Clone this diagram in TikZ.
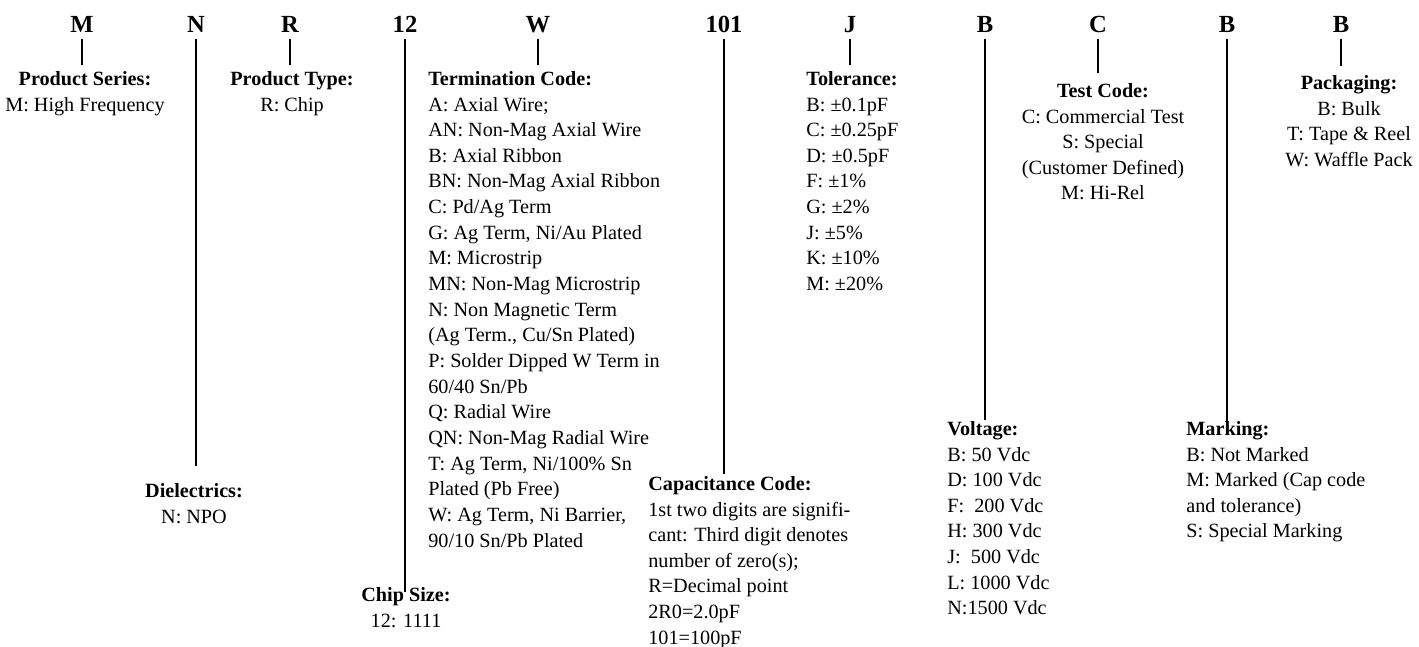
\documentclass[tikz,border=0pt]{standalone}
\usepackage{fontspec}
\setmainfont{Liberation Serif}

\begin{document}
\begin{tikzpicture}[
    x=0.02cm, y=-0.02cm,
    code/.style={font=\fontsize{14}{16}\selectfont\bfseries, inner sep=0pt, text depth=0pt, anchor=base},
    info/.style={font=\fontsize{11.5}{14.6}\selectfont, inner sep=0pt, align=left, anchor=north west},
    infoc/.style={info, align=center, anchor=north},
    lead/.style={line width=1pt, shorten <=3.5pt, shorten >=3.5pt}
]
\useasboundingbox (0,0) rectangle (1419,646);

% --- PART NUMBER CODES ---
\node[code] (cM) at (82, 32) {M};
\node[code] (cN) at (196, 32) {N};
\node[code] (cR) at (290, 32) {R};
\node[code] (c12) at (405, 32) {12};
\node[code] (cW) at (538, 32) {W};
\node[code] (c101) at (724, 32) {101};
\node[code] (cJ) at (850, 32) {J};
\node[code] (cB1) at (985, 32) {B};
\node[code] (cC) at (1098, 32) {C};
\node[code] (cB2) at (1227, 32) {B};
\node[code] (cB3) at (1341, 32) {B};

% --- UPPER ROW ---
\node[infoc] (series) at (85, 71)
{\textbf{Product Series:}\\
M: High Frequency};

\node[infoc] (ptype) at (292, 71)
{\textbf{Product Type:}\\
R: Chip};

\node[info] (term) at (428, 71)
{\textbf{Termination Code:}\\
A: Axial Wire;\\
AN: Non-Mag Axial Wire\\
B: Axial Ribbon\\
BN: Non-Mag Axial Ribbon\\
C: Pd/Ag Term\\
G: Ag Term, Ni/Au Plated\\
M: Microstrip\\
MN: Non-Mag Microstrip\\
N: Non Magnetic Term\\
(Ag Term., Cu/Sn Plated)\\
P: Solder Dipped W Term in\\
60/40 Sn/Pb\\
Q: Radial Wire\\
QN: Non-Mag Radial Wire\\
T: Ag Term, Ni/100\% Sn\\
Plated (Pb Free)\\
W: Ag Term, Ni Barrier,\\
90/10 Sn/Pb Plated};

\node[info] (tol) at (806, 71)
{\textbf{Tolerance:}\\
B: ±0.1pF\\
C: ±0.25pF\\
D: ±0.5pF\\
F: ±1\%\\
G: ±2\%\\
J: ±5\%\\
K: ±10\%\\
M: ±20\%};

\node[infoc] (test) at (1103, 83)
{\textbf{Test Code:}\\
C: Commercial Test\\
S: Special\\
(Customer Defined)\\
M: Hi-Rel};

\node[infoc] (pack) at (1349, 75)
{\textbf{Packaging:}\\
B: Bulk\\
T: Tape \& Reel\\
W: Waffle Pack};

% --- LOWER ROW ---
\node[infoc] (dielec) at (194, 483)
{\textbf{Dielectrics:}\\
N: NPO};

\node[infoc] (chip) at (406, 587)
{\textbf{Chip Size:}\\
12: 1111};

\node[info] (cap) at (648, 476)
{\textbf{Capacitance Code:}\\
1st two digits are signifi-\\
cant: Third digit denotes\\
number of zero(s);\\
R=Decimal point\\
2R0=2.0pF\\
101=100pF};

\node[info] (volt) at (947, 421)
{\textbf{Voltage:}\\
B: 50 Vdc\\
D: 100 Vdc\\
F:~ 200 Vdc\\
H: 300 Vdc\\
J:~ 500 Vdc\\
L: 1000 Vdc\\
N:1500 Vdc};

\node[info] (mark) at (1186, 421)
{\textbf{Marking:}\\
B: Not Marked\\
M: Marked (Cap code\\
and tolerance)\\
S: Special Marking};

% --- LEADERS ---
\draw[lead] (cM) -- (cM |- series.north);
\draw[lead, shorten >=9.5pt] (cN) -- (cN |- dielec.north);
\draw[lead] (cR) -- (cR |- ptype.north);
\draw[lead, shorten >=-3pt] (c12) -- (c12 |- chip.north);
\draw[lead] (cW) -- (cW |- term.north);
\draw[lead, shorten >=1pt] (c101) -- (c101 |- cap.north);
\draw[lead] (cJ) -- (cJ |- tol.north);
\draw[lead, shorten >=0.5pt] (cB1) -- (cB1 |- volt.north);
\draw[lead, shorten >=5.5pt] (cC) -- (cC |- test.north);
\draw[lead, shorten >=0pt] (cB2) -- (cB2 |- mark.north);
\draw[lead, shorten >=5pt] (cB3) -- (cB3 |- pack.north);

\end{tikzpicture}
\end{document}
